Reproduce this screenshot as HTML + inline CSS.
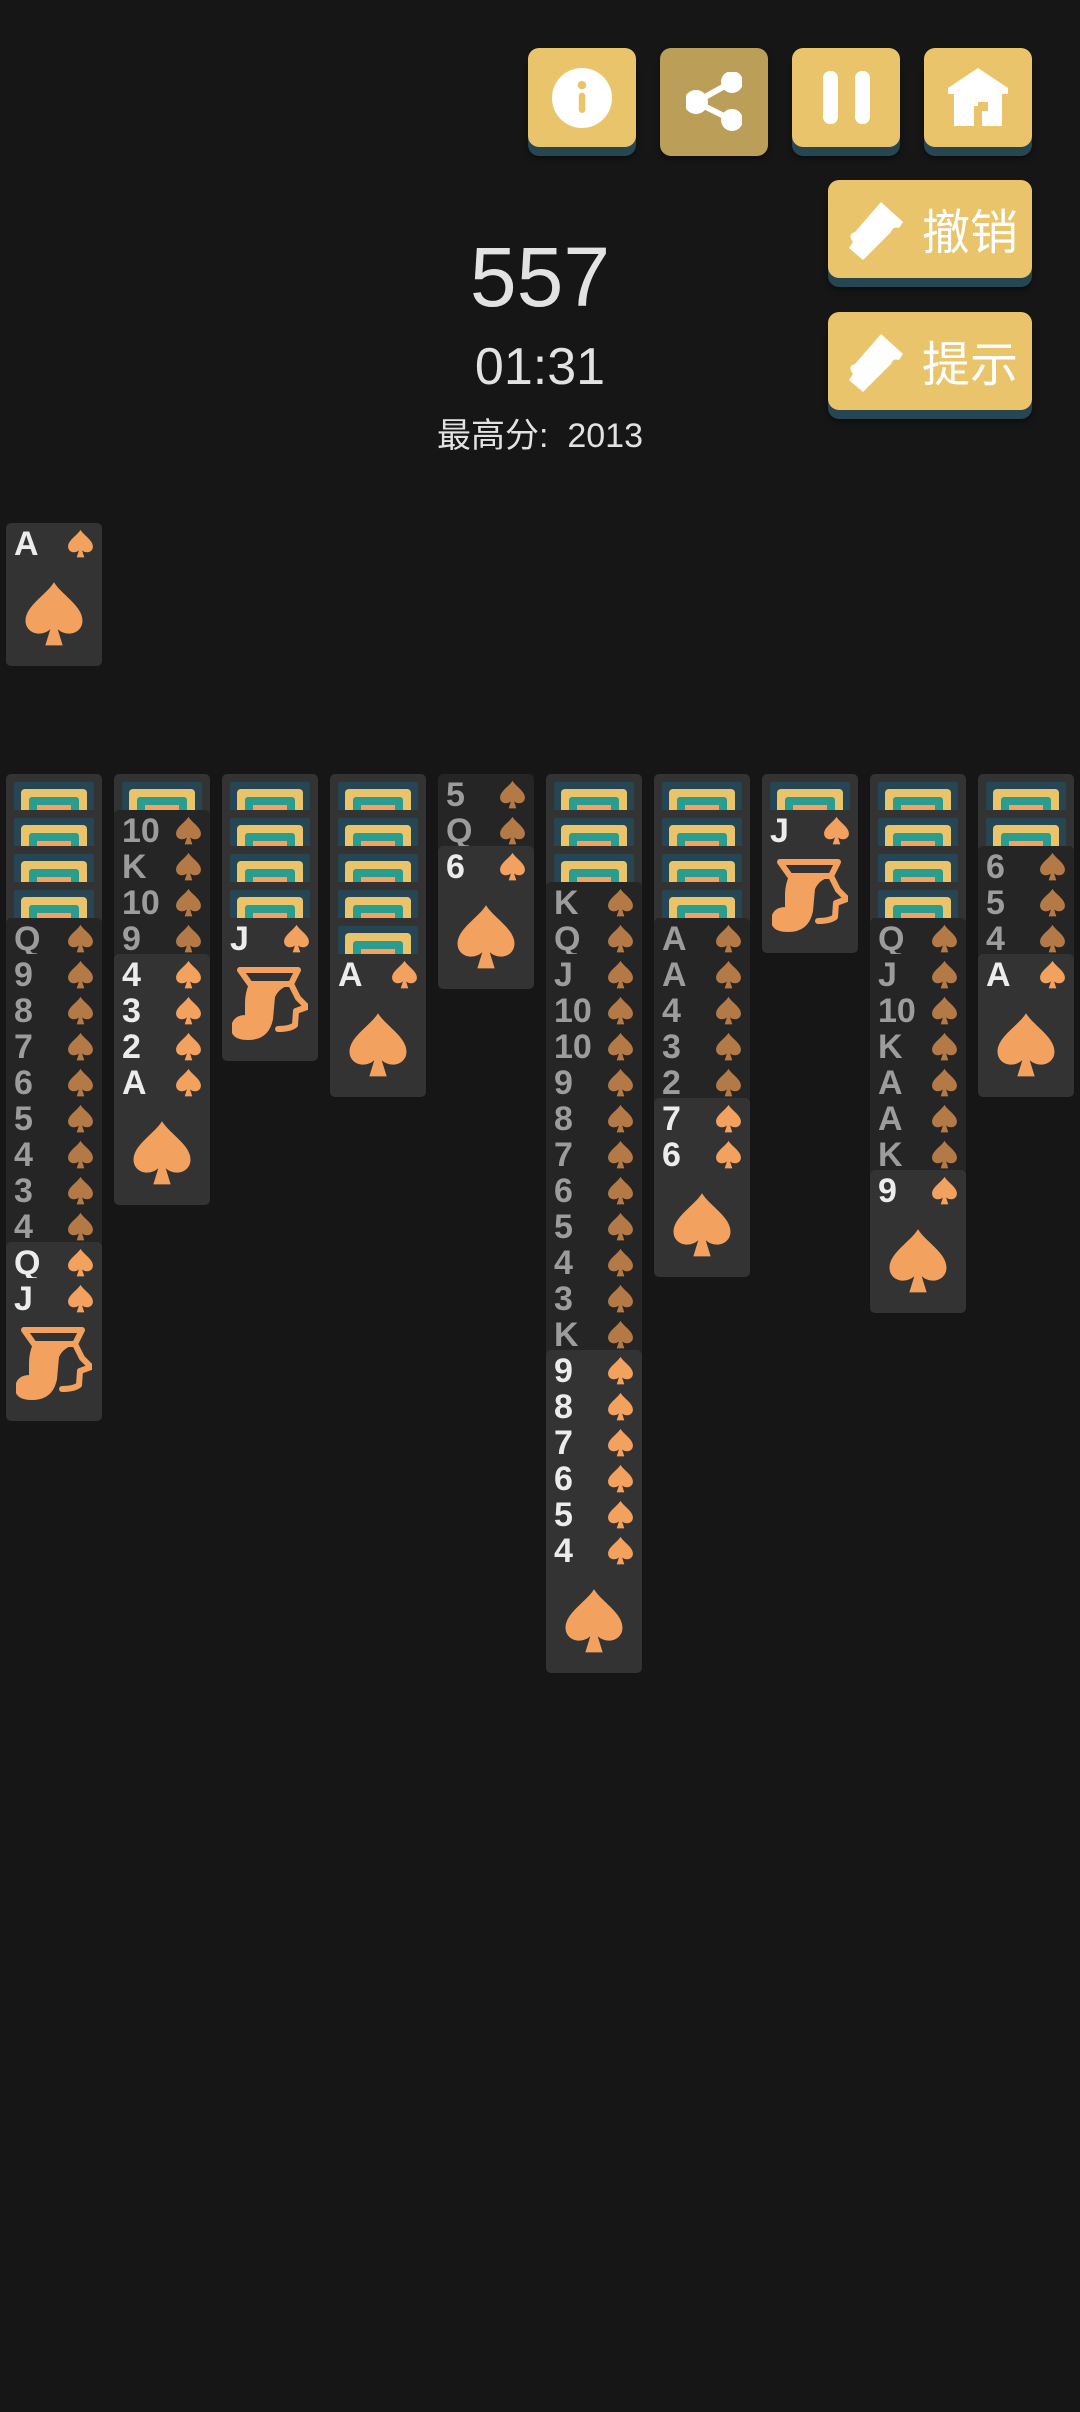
<!DOCTYPE html>
<html><head><meta charset="utf-8"><style>
*{margin:0;padding:0;box-sizing:border-box}
body{width:1080px;height:2412px;background:#161616;position:relative;overflow:hidden;font-family:"Liberation Sans","Noto Sans CJK SC",sans-serif}
.btn{position:absolute;background:#e9c46a;border-radius:11px;box-shadow:0 9px 0 #264653,0 12px 6px rgba(0,0,0,.4)}
.c{position:absolute;width:96px;height:143px;border-radius:5px;background:#333}
.d{background:#252525}
.c b{position:absolute;left:8px;top:2px;font-size:34px;line-height:38px;font-weight:bold;color:#ececec}
.d b{color:#9c9c9c}
.c svg.s{position:absolute;left:61px;top:6px;width:27px;height:29px;fill:#f2a15e}
.d svg.s{fill:#b37a47}
.c svg.g{position:absolute;left:17px;top:58px;width:62px;height:65px;fill:#f2a15e}
.c svg.j{position:absolute;left:10px;top:49px;width:76px;height:74px}
.k i{position:absolute;left:8px;top:8px;width:80px;height:127px;background:#264653;border-radius:2px}
.k i:before{content:"";position:absolute;left:7px;top:7px;right:7px;bottom:7px;background:#e9c46a;border-radius:4px}
.k i:after{content:"";position:absolute;left:15px;top:15px;right:15px;bottom:15px;background:#f4a261;border:8px solid #2a9d8f;border-radius:3px}
.t{position:absolute;left:0;width:1080px;text-align:center;color:#e2e2e2}
</style></head><body>
<svg width="0" height="0" style="position:absolute">
<defs>
<symbol id="sp" viewBox="0 0 100 105"><path d="M50 2 C38 22 4 40 4 64 C4 84 28 92 44 78 L36 104 L64 104 L56 78 C72 92 96 84 96 64 C96 40 62 22 50 2Z"/></symbol>
<symbol id="jk" viewBox="0 0 76 74"><g fill="#f2a15e" stroke="#f2a15e" stroke-linejoin="round" stroke-linecap="round"><path d="M8 3 H66 L59 17 H18 Z" fill="none" stroke-width="6"/><path d="M18 17 L58 17 Q46 20 42 30 L40 52 Q36 72 16 72 Q0 72 0 61 Q1 49 14 49 L14 36 Q14 26 18 17Z" stroke-width="2"/><path d="M59 17 L66 31 L75 40 L64 44 L63 58 Q58 62 46 62" fill="none" stroke-width="6"/></g></symbol>
</defs></svg>

<div class="btn" style="left:528px;top:48px;width:108px;height:99px"><svg style="position:absolute;left:24px;top:20px" width="60" height="60" viewBox="0 0 56 56"><circle cx="28" cy="28" r="28" fill="#fff"/><circle cx="28" cy="16" r="4" fill="#e9c46a"/><rect x="25" y="23" width="6" height="19" rx="3" fill="#e9c46a"/></svg></div>
<div class="btn" style="left:660px;top:48px;width:108px;height:108px;background:#bb9f58;box-shadow:0 3px 6px rgba(0,0,0,.4)"><svg style="position:absolute;left:26px;top:24px" width="56" height="60" viewBox="0 0 56 60"><g stroke="#fff" stroke-width="6" fill="#fff"><line x1="10" y1="30" x2="46" y2="10"/><line x1="10" y1="30" x2="46" y2="48"/><circle cx="10" cy="30" r="9"/><circle cx="46" cy="10" r="8"/><circle cx="46" cy="48" r="8"/></g></svg></div>
<div class="btn" style="left:792px;top:48px;width:108px;height:99px"><div style="position:absolute;left:31px;top:23px;width:15px;height:53px;background:#fff;border-radius:7px"></div><div style="position:absolute;left:63px;top:23px;width:15px;height:53px;background:#fff;border-radius:7px"></div></div>
<div class="btn" style="left:924px;top:48px;width:108px;height:99px"><svg style="position:absolute;left:22px;top:16px" width="64" height="62" viewBox="0 0 60 62"><path d="M30 4 L60 24 V30 H54 V62 H34 V42 H26 V62 H6 V30 H0 V24Z" fill="#fff"/><rect x="30" y="38" width="10" height="9" fill="#e9c46a"/></svg></div>

<div class="btn" style="left:828px;top:180px;width:204px;height:98px"><svg style="position:absolute;left:16px;top:18px" width="64" height="64" viewBox="0 0 62 64"><path d="M36 4 L58 24 L54 30 Q48 28 46 34 L18 62 L4 50 L8 44 Q2 36 10 34 Z" fill="#fff"/></svg><span style="position:absolute;left:94px;top:20px;font-size:48px;line-height:56px;color:#fff;font-family:'Noto Sans CJK SC',sans-serif">撤销</span></div>
<div class="btn" style="left:828px;top:312px;width:204px;height:98px"><svg style="position:absolute;left:16px;top:18px" width="64" height="64" viewBox="0 0 62 64"><path d="M36 4 L58 24 L54 30 Q48 28 46 34 L18 62 L4 50 L8 44 Q2 36 10 34 Z" fill="#fff"/></svg><span style="position:absolute;left:94px;top:20px;font-size:48px;line-height:56px;color:#fff;font-family:'Noto Sans CJK SC',sans-serif">提示</span></div>

<div class="t" style="top:232px;font-size:84px;line-height:90px">557</div>
<div class="t" style="top:338px;font-size:52px;line-height:58px">01:31</div>
<div class="t" style="top:414px;font-size:34px;line-height:44px">最高分:&nbsp; 2013</div>

<div class="c" style="left:6px;top:523px"><b>A</b><svg class="s"><use href="#sp"/></svg><svg class="g"><use href="#sp"/></svg></div>

<!-- col1 -->
<div class="c k" style="left:6px;top:774px"><i></i></div>
<div class="c k" style="left:6px;top:810px"><i></i></div>
<div class="c k" style="left:6px;top:846px"><i></i></div>
<div class="c k" style="left:6px;top:882px"><i></i></div>
<div class="c d" style="left:6px;top:918px"><b>Q</b><svg class="s"><use href="#sp"/></svg></div>
<div class="c d" style="left:6px;top:954px"><b>9</b><svg class="s"><use href="#sp"/></svg></div>
<div class="c d" style="left:6px;top:990px"><b>8</b><svg class="s"><use href="#sp"/></svg></div>
<div class="c d" style="left:6px;top:1026px"><b>7</b><svg class="s"><use href="#sp"/></svg></div>
<div class="c d" style="left:6px;top:1062px"><b>6</b><svg class="s"><use href="#sp"/></svg></div>
<div class="c d" style="left:6px;top:1098px"><b>5</b><svg class="s"><use href="#sp"/></svg></div>
<div class="c d" style="left:6px;top:1134px"><b>4</b><svg class="s"><use href="#sp"/></svg></div>
<div class="c d" style="left:6px;top:1170px"><b>3</b><svg class="s"><use href="#sp"/></svg></div>
<div class="c d" style="left:6px;top:1206px"><b>4</b><svg class="s"><use href="#sp"/></svg></div>
<div class="c" style="left:6px;top:1242px"><b>Q</b><svg class="s"><use href="#sp"/></svg></div>
<div class="c" style="left:6px;top:1278px"><b>J</b><svg class="s"><use href="#sp"/></svg><svg class="j"><use href="#jk"/></svg></div>

<!-- col2 -->
<div class="c k" style="left:114px;top:774px"><i></i></div>
<div class="c d" style="left:114px;top:810px"><b>10</b><svg class="s"><use href="#sp"/></svg></div>
<div class="c d" style="left:114px;top:846px"><b>K</b><svg class="s"><use href="#sp"/></svg></div>
<div class="c d" style="left:114px;top:882px"><b>10</b><svg class="s"><use href="#sp"/></svg></div>
<div class="c d" style="left:114px;top:918px"><b>9</b><svg class="s"><use href="#sp"/></svg></div>
<div class="c" style="left:114px;top:954px"><b>4</b><svg class="s"><use href="#sp"/></svg></div>
<div class="c" style="left:114px;top:990px"><b>3</b><svg class="s"><use href="#sp"/></svg></div>
<div class="c" style="left:114px;top:1026px"><b>2</b><svg class="s"><use href="#sp"/></svg></div>
<div class="c" style="left:114px;top:1062px"><b>A</b><svg class="s"><use href="#sp"/></svg><svg class="g"><use href="#sp"/></svg></div>

<!-- col3 -->
<div class="c k" style="left:222px;top:774px"><i></i></div>
<div class="c k" style="left:222px;top:810px"><i></i></div>
<div class="c k" style="left:222px;top:846px"><i></i></div>
<div class="c k" style="left:222px;top:882px"><i></i></div>
<div class="c" style="left:222px;top:918px"><b>J</b><svg class="s"><use href="#sp"/></svg><svg class="j"><use href="#jk"/></svg></div>

<!-- col4 -->
<div class="c k" style="left:330px;top:774px"><i></i></div>
<div class="c k" style="left:330px;top:810px"><i></i></div>
<div class="c k" style="left:330px;top:846px"><i></i></div>
<div class="c k" style="left:330px;top:882px"><i></i></div>
<div class="c k" style="left:330px;top:918px"><i></i></div>
<div class="c" style="left:330px;top:954px"><b>A</b><svg class="s"><use href="#sp"/></svg><svg class="g"><use href="#sp"/></svg></div>

<!-- col5 -->
<div class="c d" style="left:438px;top:774px"><b>5</b><svg class="s"><use href="#sp"/></svg></div>
<div class="c d" style="left:438px;top:810px"><b>Q</b><svg class="s"><use href="#sp"/></svg></div>
<div class="c" style="left:438px;top:846px"><b>6</b><svg class="s"><use href="#sp"/></svg><svg class="g"><use href="#sp"/></svg></div>

<!-- col6 -->
<div class="c k" style="left:546px;top:774px"><i></i></div>
<div class="c k" style="left:546px;top:810px"><i></i></div>
<div class="c k" style="left:546px;top:846px"><i></i></div>
<div class="c d" style="left:546px;top:882px"><b>K</b><svg class="s"><use href="#sp"/></svg></div>
<div class="c d" style="left:546px;top:918px"><b>Q</b><svg class="s"><use href="#sp"/></svg></div>
<div class="c d" style="left:546px;top:954px"><b>J</b><svg class="s"><use href="#sp"/></svg></div>
<div class="c d" style="left:546px;top:990px"><b>10</b><svg class="s"><use href="#sp"/></svg></div>
<div class="c d" style="left:546px;top:1026px"><b>10</b><svg class="s"><use href="#sp"/></svg></div>
<div class="c d" style="left:546px;top:1062px"><b>9</b><svg class="s"><use href="#sp"/></svg></div>
<div class="c d" style="left:546px;top:1098px"><b>8</b><svg class="s"><use href="#sp"/></svg></div>
<div class="c d" style="left:546px;top:1134px"><b>7</b><svg class="s"><use href="#sp"/></svg></div>
<div class="c d" style="left:546px;top:1170px"><b>6</b><svg class="s"><use href="#sp"/></svg></div>
<div class="c d" style="left:546px;top:1206px"><b>5</b><svg class="s"><use href="#sp"/></svg></div>
<div class="c d" style="left:546px;top:1242px"><b>4</b><svg class="s"><use href="#sp"/></svg></div>
<div class="c d" style="left:546px;top:1278px"><b>3</b><svg class="s"><use href="#sp"/></svg></div>
<div class="c d" style="left:546px;top:1314px"><b>K</b><svg class="s"><use href="#sp"/></svg></div>
<div class="c" style="left:546px;top:1350px"><b>9</b><svg class="s"><use href="#sp"/></svg></div>
<div class="c" style="left:546px;top:1386px"><b>8</b><svg class="s"><use href="#sp"/></svg></div>
<div class="c" style="left:546px;top:1422px"><b>7</b><svg class="s"><use href="#sp"/></svg></div>
<div class="c" style="left:546px;top:1458px"><b>6</b><svg class="s"><use href="#sp"/></svg></div>
<div class="c" style="left:546px;top:1494px"><b>5</b><svg class="s"><use href="#sp"/></svg></div>
<div class="c" style="left:546px;top:1530px"><b>4</b><svg class="s"><use href="#sp"/></svg><svg class="g"><use href="#sp"/></svg></div>

<!-- col7 -->
<div class="c k" style="left:654px;top:774px"><i></i></div>
<div class="c k" style="left:654px;top:810px"><i></i></div>
<div class="c k" style="left:654px;top:846px"><i></i></div>
<div class="c k" style="left:654px;top:882px"><i></i></div>
<div class="c d" style="left:654px;top:918px"><b>A</b><svg class="s"><use href="#sp"/></svg></div>
<div class="c d" style="left:654px;top:954px"><b>A</b><svg class="s"><use href="#sp"/></svg></div>
<div class="c d" style="left:654px;top:990px"><b>4</b><svg class="s"><use href="#sp"/></svg></div>
<div class="c d" style="left:654px;top:1026px"><b>3</b><svg class="s"><use href="#sp"/></svg></div>
<div class="c d" style="left:654px;top:1062px"><b>2</b><svg class="s"><use href="#sp"/></svg></div>
<div class="c" style="left:654px;top:1098px"><b>7</b><svg class="s"><use href="#sp"/></svg></div>
<div class="c" style="left:654px;top:1134px"><b>6</b><svg class="s"><use href="#sp"/></svg><svg class="g"><use href="#sp"/></svg></div>

<!-- col8 -->
<div class="c k" style="left:762px;top:774px"><i></i></div>
<div class="c" style="left:762px;top:810px"><b>J</b><svg class="s"><use href="#sp"/></svg><svg class="j"><use href="#jk"/></svg></div>

<!-- col9 -->
<div class="c k" style="left:870px;top:774px"><i></i></div>
<div class="c k" style="left:870px;top:810px"><i></i></div>
<div class="c k" style="left:870px;top:846px"><i></i></div>
<div class="c k" style="left:870px;top:882px"><i></i></div>
<div class="c d" style="left:870px;top:918px"><b>Q</b><svg class="s"><use href="#sp"/></svg></div>
<div class="c d" style="left:870px;top:954px"><b>J</b><svg class="s"><use href="#sp"/></svg></div>
<div class="c d" style="left:870px;top:990px"><b>10</b><svg class="s"><use href="#sp"/></svg></div>
<div class="c d" style="left:870px;top:1026px"><b>K</b><svg class="s"><use href="#sp"/></svg></div>
<div class="c d" style="left:870px;top:1062px"><b>A</b><svg class="s"><use href="#sp"/></svg></div>
<div class="c d" style="left:870px;top:1098px"><b>A</b><svg class="s"><use href="#sp"/></svg></div>
<div class="c d" style="left:870px;top:1134px"><b>K</b><svg class="s"><use href="#sp"/></svg></div>
<div class="c" style="left:870px;top:1170px"><b>9</b><svg class="s"><use href="#sp"/></svg><svg class="g"><use href="#sp"/></svg></div>

<!-- col10 -->
<div class="c k" style="left:978px;top:774px"><i></i></div>
<div class="c k" style="left:978px;top:810px"><i></i></div>
<div class="c d" style="left:978px;top:846px"><b>6</b><svg class="s"><use href="#sp"/></svg></div>
<div class="c d" style="left:978px;top:882px"><b>5</b><svg class="s"><use href="#sp"/></svg></div>
<div class="c d" style="left:978px;top:918px"><b>4</b><svg class="s"><use href="#sp"/></svg></div>
<div class="c" style="left:978px;top:954px"><b>A</b><svg class="s"><use href="#sp"/></svg><svg class="g"><use href="#sp"/></svg></div>
</body></html>
